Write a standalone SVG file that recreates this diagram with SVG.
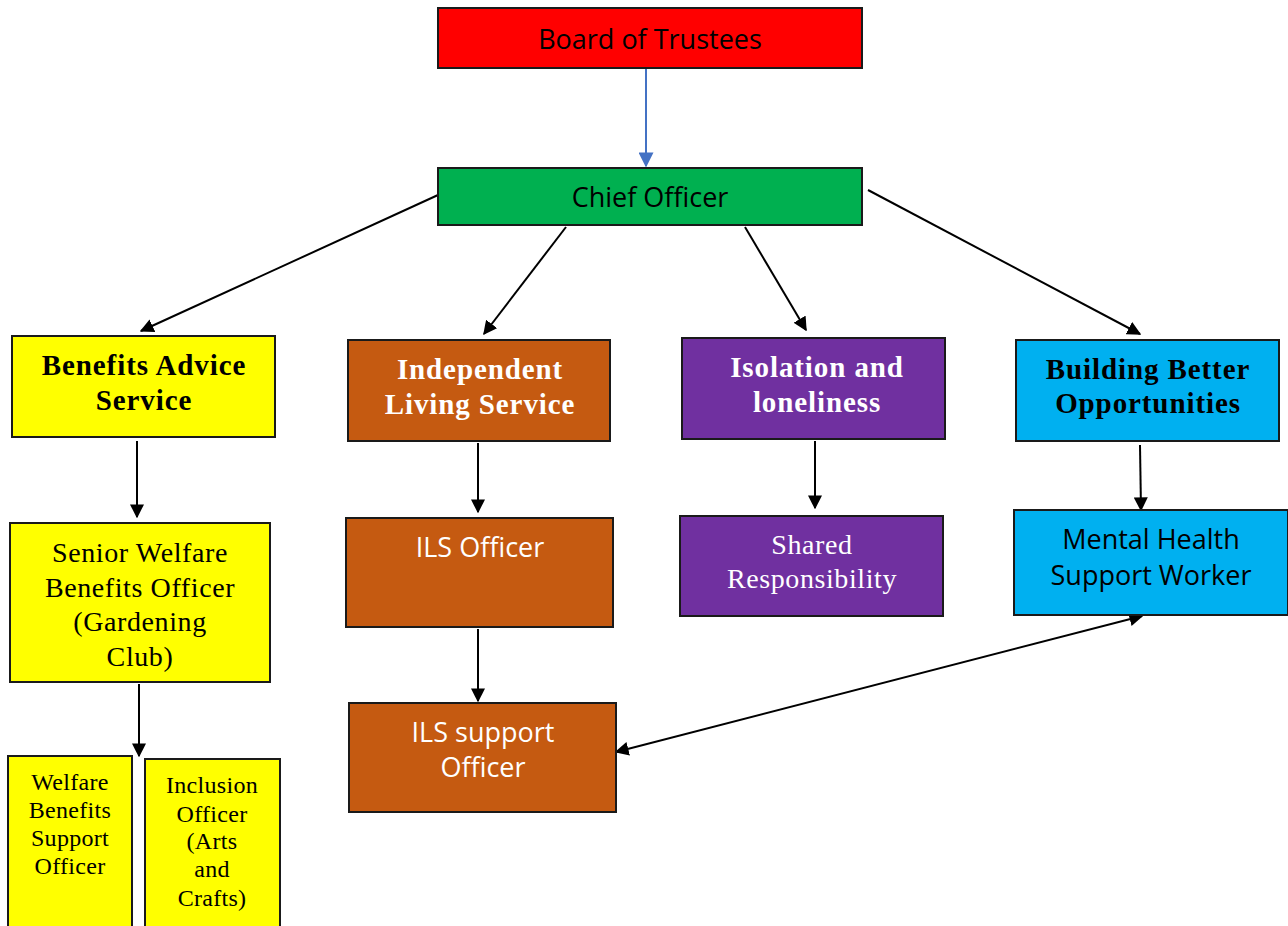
<svg xmlns="http://www.w3.org/2000/svg" width="1288" height="926" viewBox="0 0 1288 926">
<defs>
<style>
.box{stroke:#1a1a1a;stroke-width:2}
.sans{font-family:"Open Sans","Noto Sans",sans-serif;font-size:27px;text-anchor:middle}
.serif{font-family:"Liberation Serif","Times New Roman",serif;font-size:28px;letter-spacing:0.6px;text-anchor:middle}
.bold{font-family:"Liberation Serif","Times New Roman",serif;font-size:29px;font-weight:bold;letter-spacing:0.9px;text-anchor:middle}
.small{font-family:"Liberation Serif","Times New Roman",serif;font-size:24px;letter-spacing:0.3px;text-anchor:middle}
.w{fill:#ffffff}
.k{fill:#000000}
.conn{stroke:#000;stroke-width:2;fill:none}
</style>
<marker id="ah" viewBox="0 0 10 10" refX="9" refY="5" markerWidth="14" markerHeight="14" markerUnits="userSpaceOnUse" orient="auto-start-reverse"><path d="M0,0 L10,5 L0,10 z" fill="#000"/></marker>
<marker id="ahb" viewBox="0 0 10 10" refX="9" refY="5" markerWidth="16" markerHeight="15" markerUnits="userSpaceOnUse" orient="auto"><path d="M0,0 L10,5 L0,10 z" fill="#4472C4"/></marker>
</defs>
<g id="connectors">
<line x1="646" y1="68" x2="646" y2="166" stroke="#4472C4" stroke-width="2" marker-end="url(#ahb)"/>
<line class="conn" x1="438" y1="195" x2="141" y2="331" marker-end="url(#ah)"/>
<line class="conn" x1="566" y1="227" x2="484" y2="334" marker-end="url(#ah)"/>
<line class="conn" x1="745" y1="227" x2="806" y2="330" marker-end="url(#ah)"/>
<line class="conn" x1="868" y1="190" x2="1140" y2="334" marker-end="url(#ah)"/>
<line class="conn" x1="137" y1="441" x2="137" y2="517" marker-end="url(#ah)"/>
<line class="conn" x1="478" y1="443" x2="478" y2="512" marker-end="url(#ah)"/>
<line class="conn" x1="815" y1="441" x2="815" y2="508" marker-end="url(#ah)"/>
<line class="conn" x1="1140" y1="445" x2="1141" y2="510" marker-end="url(#ah)"/>
<line class="conn" x1="478" y1="629" x2="478" y2="701" marker-end="url(#ah)"/>
<line class="conn" x1="139" y1="684" x2="139" y2="756" marker-end="url(#ah)"/>
<line class="conn" x1="616" y1="752" x2="1142" y2="616" marker-start="url(#ah)" marker-end="url(#ah)"/>
</g>
<g id="board"><rect class="box" x="438" y="8" width="424" height="60" fill="#FF0000"/><text class="sans k" x="650" y="49">Board of Trustees</text></g>
<g id="chief"><rect class="box" x="438" y="168" width="424" height="57" fill="#00B050"/><text class="sans k" x="650" y="207">Chief Officer</text></g>
<g id="benefits"><rect class="box" x="12" y="336" width="263" height="101" fill="#FFFF00"/><text class="bold k" x="144" y="375">Benefits Advice</text><text class="bold k" x="144" y="410">Service</text></g>
<g id="ils"><rect class="box" x="348" y="340" width="262" height="101" fill="#C55A11"/><text class="bold w" x="480" y="379">Independent</text><text class="bold w" x="480" y="414">Living Service</text></g>
<g id="isolation"><rect class="box" x="682" y="338" width="263" height="101" fill="#7030A0"/><text class="bold w" x="817" y="377">Isolation and</text><text class="bold w" x="817" y="412">loneliness</text></g>
<g id="bbo"><rect class="box" x="1016" y="340" width="263" height="101" fill="#00B0F0"/><text class="bold k" x="1148" y="379">Building Better</text><text class="bold k" x="1148" y="413">Opportunities</text></g>
<g id="senior"><rect class="box" x="10" y="523" width="260" height="159" fill="#FFFF00"/><text class="serif k" x="140" y="562">Senior Welfare</text><text class="serif k" x="140" y="597">Benefits Officer</text><text class="serif k" x="140" y="631">(Gardening</text><text class="serif k" x="140" y="666">Club)</text></g>
<g id="ilsofficer"><rect class="box" x="346" y="518" width="267" height="109" fill="#C55A11"/><text class="sans w" x="480" y="557">ILS Officer</text></g>
<g id="ilssupport"><rect class="box" x="349" y="703" width="267" height="109" fill="#C55A11"/><text class="sans w" x="483" y="742">ILS support</text><text class="sans w" x="483" y="777">Officer</text></g>
<g id="shared"><rect class="box" x="680" y="516" width="263" height="100" fill="#7030A0"/><text class="serif w" x="812" y="554">Shared</text><text class="serif w" x="812" y="588">Responsibility</text></g>
<g id="mental"><rect class="box" x="1014" y="510" width="274" height="105" fill="#00B0F0"/><text class="sans k" x="1151" y="549">Mental Health</text><text class="sans k" x="1151" y="585">Support Worker</text></g>
<g id="welfare"><rect class="box" x="8" y="756" width="124" height="180" fill="#FFFF00"/><text class="small k" x="70" y="790">Welfare</text><text class="small k" x="70" y="818">Benefits</text><text class="small k" x="70" y="846">Support</text><text class="small k" x="70" y="874">Officer</text></g>
<g id="inclusion"><rect class="box" x="145" y="759" width="135" height="180" fill="#FFFF00"/><text class="small k" x="212" y="793">Inclusion</text><text class="small k" x="212" y="822">Officer</text><text class="small k" x="212" y="849">(Arts</text><text class="small k" x="212" y="877">and</text><text class="small k" x="212" y="906">Crafts)</text></g>
</svg>
